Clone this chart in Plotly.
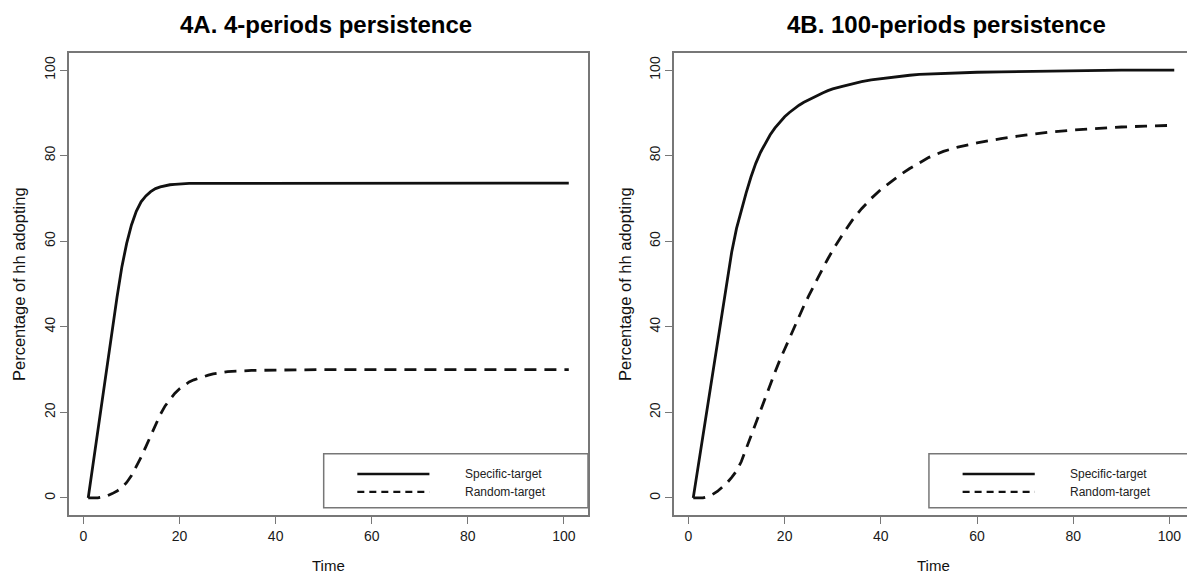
import plotly.graph_objects as go

# ---- data: share of households adopting (%) by period ----
time_a = list(range(1, 31)) + [35, 40, 50, 60, 70, 80, 90, 101]
specific_a = [0, 8, 16, 24, 32, 40, 47, 54, 59.5, 63.8,
              67, 69.2, 70.6, 71.6, 72.3, 72.7, 73.0, 73.2, 73.3, 73.4,
              73.4, 73.5, 73.5, 73.5, 73.5, 73.5, 73.5, 73.5, 73.6, 73.6,
              73.6, 73.6, 73.6, 73.6, 73.6, 73.6, 73.6, 73.6]
random_a = [0, 0, 0, 0.2, 0.5, 1.0, 1.6, 2.4, 3.6, 5.2,
            7.2, 9.5, 12.0, 14.6, 17.1, 19.5, 21.5, 23.0, 24.4, 25.5,
            26.4, 27.1, 27.6, 28.0, 28.4, 28.7, 29.0, 29.2, 29.4, 29.5,
            29.8, 29.9, 30.0, 30.0, 30.0, 30.0, 30.0, 30.0]

time_b = list(range(1, 31)) + [32, 34, 36, 38, 40, 42, 44, 46, 48, 50,
                               53, 56, 60, 65, 70, 75, 80, 85, 90, 95, 101]
specific_b = [0, 7.3, 14.6, 22, 29.3, 36.6, 44, 51, 57.5, 63,
              67.5, 71.3, 75, 78.2, 80.8, 83, 84.9, 86.5, 87.9, 89.1,
              90.1, 91, 91.8, 92.5, 93.1, 93.7, 94.2, 94.7, 95.2, 95.6,
              96.2, 96.8, 97.3, 97.7, 98.0, 98.3, 98.6, 98.8, 99.0, 99.1,
              99.3, 99.4, 99.5, 99.6, 99.7, 99.8, 99.9, 99.9, 100, 100, 100]
random_b = [0, 0, 0, 0.3, 0.8, 1.5, 2.4, 3.5, 4.8, 6.3,
            8.5, 11.5, 14.6, 17.7, 20.7, 23.6, 26.5, 29.4, 32.2, 34.8,
            37.4, 40.0, 42.5, 44.9, 47.2, 49.5, 51.7, 53.8, 55.9, 57.9,
            61.5, 64.8, 67.6, 70.0, 72.1, 73.9, 75.5, 77.0, 78.4, 79.6,
            81.0, 82.0, 83.0, 84.0, 84.8, 85.5, 86.0, 86.4, 86.7, 86.9, 87.1]

panel_titles = ["4A. 4-periods persistence", "4B. 100-periods persistence"]
series_names = ["Specific-target", "Random-target"]
x_label = "Time"
y_label = "Percentage of hh adopting"
tick_vals = [0, 20, 40, 60, 80, 100]

# ---- geometry (pixels) ----
W, H = 1187, 574
FONT = "Liberation Sans, Arial, sans-serif"
INK = "#111111"
FRAME = "#777777"

def px_x(p):
    return p / W

def px_y(p):
    return 1 - p / H

box_top, box_bottom = 53, 515
panels = [
    dict(xa="x", ya="y", left=69, right=588, xr=[-3, 105],
         t=time_a, s=specific_a, r=random_a, title_x=326, ylab_x=19, mirror_y=True),
    dict(xa="x2", ya="y2", left=674, right=1187, xr=[-3, 103.65],
         t=time_b, s=specific_b, r=random_b, title_x=946, ylab_x=625, mirror_y=False),
]

fig = go.Figure()
annotations = []
shapes = []

for i, p in enumerate(panels):
    fig.add_trace(go.Scatter(x=p["t"], y=p["s"], mode="lines", name=series_names[0],
                             xaxis=p["xa"], yaxis=p["ya"], showlegend=False,
                             line=dict(color=INK, width=2.8)))
    fig.add_trace(go.Scatter(x=p["t"], y=p["r"], mode="lines", name=series_names[1],
                             xaxis=p["xa"], yaxis=p["ya"], showlegend=False,
                             line=dict(color=INK, width=2.8, dash="12px,8px")))

    sfx = "" if i == 0 else "2"
    fig.update_layout(**{
        "xaxis" + sfx: dict(
            domain=[px_x(p["left"]), px_x(p["right"])], range=p["xr"],
            anchor="y" + sfx, tickvals=tick_vals, showgrid=False, zeroline=False,
            showline=True, linecolor=FRAME, linewidth=1.5, mirror=True,
            ticks="outside", ticklen=7, tickcolor=FRAME, tickwidth=1.2,
            tickfont=dict(family=FONT, size=14, color="#1a1a1a")),
        "yaxis" + sfx: dict(
            domain=[px_y(box_bottom), px_y(box_top)], range=[-4, 104],
            anchor="x" + sfx, tickvals=tick_vals, showgrid=False, zeroline=False,
            showline=True, linecolor=FRAME, linewidth=1.5, mirror=p["mirror_y"],
            ticks="outside", ticklen=7, tickcolor=FRAME, tickwidth=1.2, tickangle=-90,
            tickfont=dict(family=FONT, size=14, color="#1a1a1a")),
    })

    # panel title
    annotations.append(dict(text="<b>%s</b>" % panel_titles[i], xref="paper", yref="paper",
                            x=px_x(p["title_x"]), y=px_y(25), xanchor="center", yanchor="middle",
                            showarrow=False, font=dict(family=FONT, size=24, color="#000000")))
    # axis titles
    annotations.append(dict(text=x_label, xref="paper", yref="paper",
                            x=px_x((p["left"] + (p["left"] + 519)) / 2), y=px_y(565),
                            xanchor="center", yanchor="middle", showarrow=False,
                            font=dict(family=FONT, size=15, color=INK)))
    annotations.append(dict(text=y_label, xref="paper", yref="paper", textangle=-90,
                            x=px_x(p["ylab_x"]), y=px_y((box_top + box_bottom) / 2),
                            xanchor="center", yanchor="middle", showarrow=False,
                            font=dict(family=FONT, size=16.5, color=INK)))

    # legend box in the lower-right corner
    shapes.append(dict(type="rect", xref=p["xa"], yref=p["ya"], x0=50, x1=105,
                       y0=-2.3, y1=10.3, line=dict(color=FRAME, width=1.5),
                       fillcolor="white", layer="above"))
    shapes.append(dict(type="line", xref=p["xa"], yref=p["ya"], x0=57, x1=72,
                       y0=5.6, y1=5.6, line=dict(color=INK, width=2.6), layer="above"))
    shapes.append(dict(type="line", xref=p["xa"], yref=p["ya"], x0=57, x1=72,
                       y0=1.4, y1=1.4, line=dict(color=INK, width=2.2, dash="7px,5px"),
                       layer="above"))
    for name, yv in zip(series_names, [5.6, 1.4]):
        annotations.append(dict(text=name, xref=p["xa"], yref=p["ya"], x=79, y=yv,
                                xanchor="left", yanchor="middle", showarrow=False,
                                font=dict(family=FONT, size=12, color="#222222")))

fig.update_layout(width=W, height=H, margin=dict(l=0, r=0, t=0, b=0),
                  paper_bgcolor="white", plot_bgcolor="white",
                  annotations=annotations, shapes=shapes, showlegend=False)

fig.write_html("out.html")
